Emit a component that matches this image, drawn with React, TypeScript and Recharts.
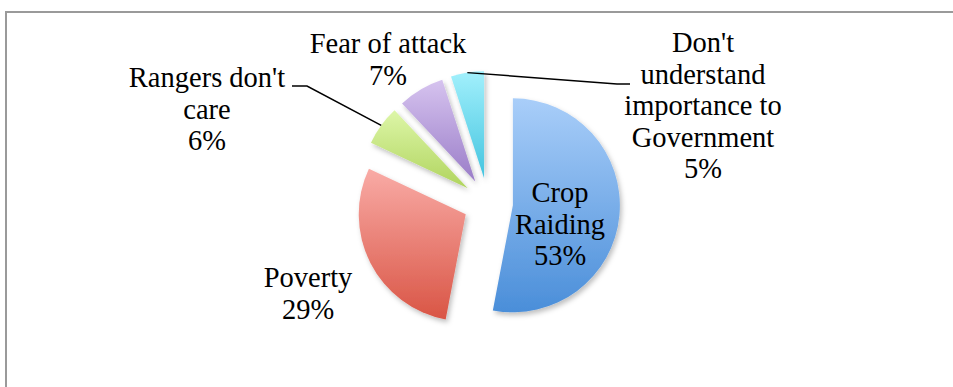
import { PieChart, Pie, Sector } from 'recharts';

// slices clockwise from 12 o'clock
const categories = [
  'Crop Raiding',
  'Poverty',
  "Rangers don't care",
  'Fear of attack',
  "Don't understand importance to Government",
];
const shares = [53, 29, 6, 7, 5];
const labelLines = [
  ['Crop', 'Raiding'],
  ['Poverty'],
  ["Rangers don't", 'care'],
  ['Fear of attack'],
  ["Don't", 'understand', 'importance to', 'Government'],
];
const gradientTop = ['#a9cef9', '#f9aba6', '#ddf6a8', '#d6c3ef', '#a2f0fc'];
const gradientBottom = ['#4a8ed9', '#d95545', '#b0d45e', '#9a7dc8', '#43c4df'];

const data = categories.map((name, i) => ({ name, value: shares[i] }));

const EXPLODE = 25;
const LINE_H = 31.5;
const RADIAN = Math.PI / 180;
// first-line baseline of each label, relative to pie center
const labelPos = [
  [72, -1],
  [-180, 84],
  [-281, -116],
  [-100, -150],
  [215, -151],
];
// leader line elbows (relative to pie center), from slice outward to text
const leaders: Record<number, number[][]> = {
  2: [[-181, -117], [-196, -117]],
  4: [[129, -119], [142, -119]],
};

const polar = (cx: number, cy: number, r: number, angle: number) => ({
  x: cx + r * Math.cos(-angle * RADIAN),
  y: cy + r * Math.sin(-angle * RADIAN),
});

const renderSlice = (props: any) => {
  const { cx, cy, midAngle, outerRadius, startAngle, endAngle, index, value } = props;
  const c = polar(cx, cy, EXPLODE, midAngle);
  const [lx, ly] = labelPos[index];
  const lines = [...labelLines[index], `${value}%`];
  let leader = null;
  if (leaders[index]) {
    const tip = polar(c.x, c.y, outerRadius, midAngle);
    const pts = [[tip.x, tip.y], ...leaders[index].map(([dx, dy]) => [cx + dx, cy + dy])];
    leader = (
      <polyline
        points={pts.map((p) => p.join(',')).join(' ')}
        fill="none"
        stroke="#000"
        strokeWidth={1.5}
      />
    );
  }
  return (
    <g key={`slice-${index}`}>
      <Sector
        cx={c.x}
        cy={c.y}
        innerRadius={0}
        outerRadius={outerRadius}
        startAngle={startAngle}
        endAngle={endAngle}
        fill={`url(#grad${index})`}
        stroke="none"
        filter="url(#sliceShadow)"
      />
      {leader}
      <text
        x={cx + lx}
        y={cy + ly}
        textAnchor="middle"
        fontFamily="'Liberation Serif', serif"
        fontSize={28.5}
        fill="#000"
      >
        {lines.map((t, i) => (
          <tspan key={i} x={cx + lx} dy={i === 0 ? 0 : LINE_H}>
            {t}
          </tspan>
        ))}
      </text>
    </g>
  );
};

export default function App() {
  return (
    <div style={{ position: 'absolute', left: 0, top: 0, width: 953, height: 387, background: '#fff' }}>
      <div
        style={{
          position: 'absolute',
          left: 5,
          top: 11,
          width: 960,
          height: 400,
          borderTop: '2px solid #9a9a9a',
          borderLeft: '2px solid #9a9a9a',
        }}
      />
      <div style={{ position: 'absolute', left: 0, top: 0 }}>
        <PieChart width={953} height={387} margin={{ top: 0, right: 0, bottom: 0, left: 0 }}>
          <defs>
            {gradientTop.map((top, i) => (
              <linearGradient key={i} id={`grad${i}`} x1="0" y1="0" x2="0" y2="1">
                <stop offset="0%" stopColor={top} />
                <stop offset="100%" stopColor={gradientBottom[i]} />
              </linearGradient>
            ))}
            <filter id="sliceShadow" x="-20%" y="-20%" width="150%" height="150%">
              <feDropShadow dx="2" dy="3" stdDeviation="2.5" floodColor="#000" floodOpacity="0.25" />
            </filter>
          </defs>
          <Pie
            data={data}
            dataKey="value"
            nameKey="name"
            cx={488}
            cy={203}
            outerRadius={107}
            startAngle={90}
            endAngle={-270}
            fill="none"
            stroke="none"
            labelLine={false}
            label={renderSlice}
            isAnimationActive={false}
          />
        </PieChart>
      </div>
    </div>
  );
}
